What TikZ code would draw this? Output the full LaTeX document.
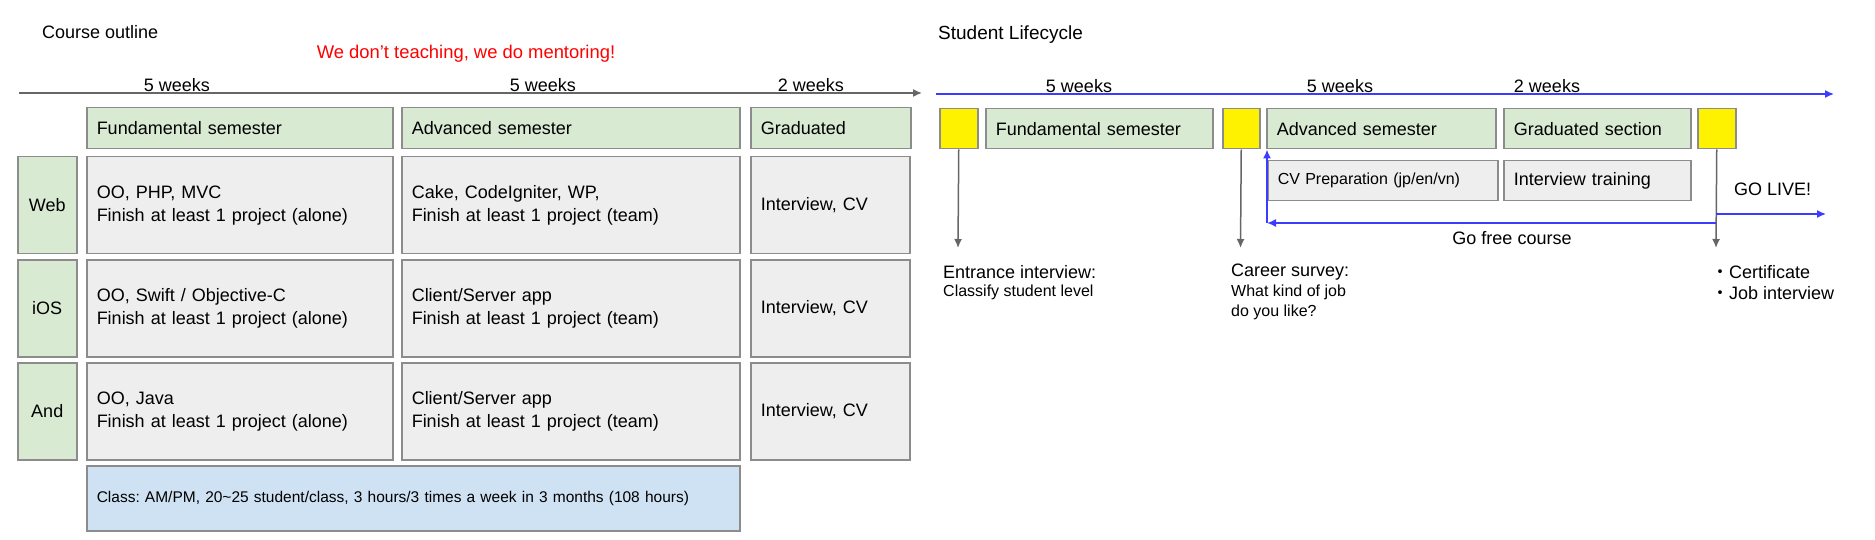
\documentclass[tikz,border=0pt]{standalone}
\usepackage{fontspec}
\setmainfont{Liberation Sans}
\newfontfamily\cjk{Noto Sans CJK JP}
\usepackage{tikz}
\usetikzlibrary{arrows.meta}
\definecolor{grn}{HTML}{D9EAD3}
\definecolor{gry}{HTML}{EEEEEE}
\definecolor{lblue}{HTML}{CFE2F3}
\definecolor{edge}{HTML}{8C8C8C}
\definecolor{conn}{HTML}{666666}
\definecolor{bline}{HTML}{3C3CFF}
\frenchspacing

\begin{document}
\begin{tikzpicture}[x=1pt,y=-1pt,
    font=\fontsize{18}{23}\selectfont,
    box/.style={draw=edge,line width=1.5pt,anchor=north west,inner xsep=10pt,inner ysep=0pt,align=left},
    gbox/.style={box,fill=grn},
    ebox/.style={box,fill=gry},
    ybox/.style={draw=edge,line width=1.5pt,fill=yellow,anchor=north west,minimum height=40,inner sep=0pt},
    free/.style={inner sep=0pt,anchor=west},
    small/.style={font=\fontsize{16}{20}\selectfont},
    tline/.style={line width=1.5pt,-{Latex[length=9pt,width=8pt]}}]
    \useasboundingbox (0,0) rectangle (1875,540);

    % course outline
    \node[free] (title1) at (42,32) {Course outline};
    \node[inner sep=0pt,text=red,font=\fontsize{18.4}{23}\selectfont] (motto) at (466,54) {We don’t teaching, we do mentoring!};
    \coordinate (ls) at (19,93);
    \coordinate (le) at (922,93);
    \draw[tline,conn] (ls) -- (le);
    \node[inner sep=0pt] (lw1) at (177,85) {5 weeks};
    \node[inner sep=0pt] (lw2) at (543,85) {5 weeks};
    \node[inner sep=0pt] (lw3) at (811,85) {2 weeks};

    \node[gbox,text width=286,minimum height=41] (hfund) at (86,107) {Fundamental semester};
    \node[gbox,text width=318,minimum height=41] (hadv) at (401,107) {Advanced semester};
    \node[gbox,text width=140,minimum height=41] (hgrad) at (750,107) {Graduated};

    \node[gbox,text width=39,align=center,minimum height=97] (web) at (17,156) {Web};
    \node[ebox,text width=286,minimum height=97] (webf) at (86,156) {OO, PHP, MVC\\Finish at least 1 project (alone)};
    \node[ebox,text width=318,minimum height=97] (weba) at (401,156) {Cake, CodeIgniter, WP,\\Finish at least 1 project (team)};
    \node[ebox,text width=139,minimum height=97] (webg) at (750,156) {Interview, CV};

    \node[gbox,text width=39,align=center,minimum height=96.5] (ios) at (17,259.5) {iOS};
    \node[ebox,text width=286,minimum height=96.5] (iosf) at (86,259.5) {OO, Swift / Objective-C\\Finish at least 1 project (alone)};
    \node[ebox,text width=318,minimum height=96.5] (iosa) at (401,259.5) {Client/Server app\\Finish at least 1 project (team)};
    \node[ebox,text width=139,minimum height=96.5] (iosg) at (750,259.5) {Interview, CV};

    \node[gbox,text width=39,align=center,minimum height=97] (and) at (17,362) {And};
    \node[ebox,text width=286,minimum height=97] (andf) at (86,362) {OO, Java\\Finish at least 1 project (alone)};
    \node[ebox,text width=318,minimum height=97] (anda) at (401,362) {Client/Server app\\Finish at least 1 project (team)};
    \node[ebox,text width=139,minimum height=97] (andg) at (750,362) {Interview, CV};

    \node[box,font=\fontsize{15.5}{19}\selectfont,fill=lblue,text width=633,minimum height=65] (class) at (86,465) {Class: AM/PM, 20\textasciitilde 25 student/class, 3 hours/3 times a week in 3 months (108 hours)};

    % student lifecycle
    \node[free,font=\fontsize{19}{23}\selectfont] (title2) at (938,35) {Student Lifecycle};
    \coordinate (rs) at (936,94);
    \coordinate (re) at (1834,94);
    \draw[tline,bline] (rs) -- (re);
    \node[inner sep=0pt] (rw1) at (1079,86) {5 weeks};
    \node[inner sep=0pt] (rw2) at (1340,86) {5 weeks};
    \node[inner sep=0pt] (rw3) at (1547,86) {2 weeks};

    \node[ybox,minimum width=38] (y1) at (939,108) {};
    \node[gbox,text width=207,minimum height=40] (rfund) at (985,108) {Fundamental semester};
    \node[ybox,minimum width=37] (y2) at (1222,108) {};
    \node[gbox,text width=209,minimum height=40] (radv) at (1266,108) {Advanced semester};
    \node[gbox,text width=167,minimum height=40] (rgrad) at (1503,108) {Graduated section};
    \node[ybox,minimum width=38] (y3) at (1697,108) {};

    \node[ebox,small,text width=210,minimum height=40] (cvprep) at (1267,160) {CV Preparation (jp/en/vn)};
    \node[ebox,text width=167,minimum height=40] (itrain) at (1503,160) {Interview training};

    \coordinate (e1) at (958,248);
    \coordinate (e2) at (1240.5,248);
    \coordinate (e3) at (1716,248);
    \draw[tline,conn] (y1.south) -- (e1);
    \draw[tline,conn] (y2.south) -- (e2);
    \draw[tline,conn] (y3.south) -- (e3);

    \coordinate (gfs) at (1716,223);
    \coordinate (gfe) at (1267,223);
    \draw[tline,bline] (gfs) -- (gfe);
    \draw[tline,bline] (gfe) -- (gfe |- radv.south);
    \coordinate (gls) at (1716,214);
    \coordinate (gle) at (1826,214);
    \draw[tline,bline] (gls) -- (gle);

    \node[free] (golive) at (1734,189) {GO LIVE!};
    \node[inner sep=0pt] (gofree) at (1512,238) {Go free course};
    \node[free] (entr) at (943,272) {Entrance interview:};
    \node[free,small] (entr2) at (943,292) {Classify student level};
    \node[free] (career) at (1231,272) {Career survey:};
    \node[free,small,align=left] (career2) at (1231,302) {What kind of job\\do you like?};
    \node[free,align=left,font=\fontsize{18}{21}\selectfont] (cert) at (1711,282.5) {{\cjk ・}Certificate\\{\cjk ・}Job interview};
\end{tikzpicture}
\end{document}
